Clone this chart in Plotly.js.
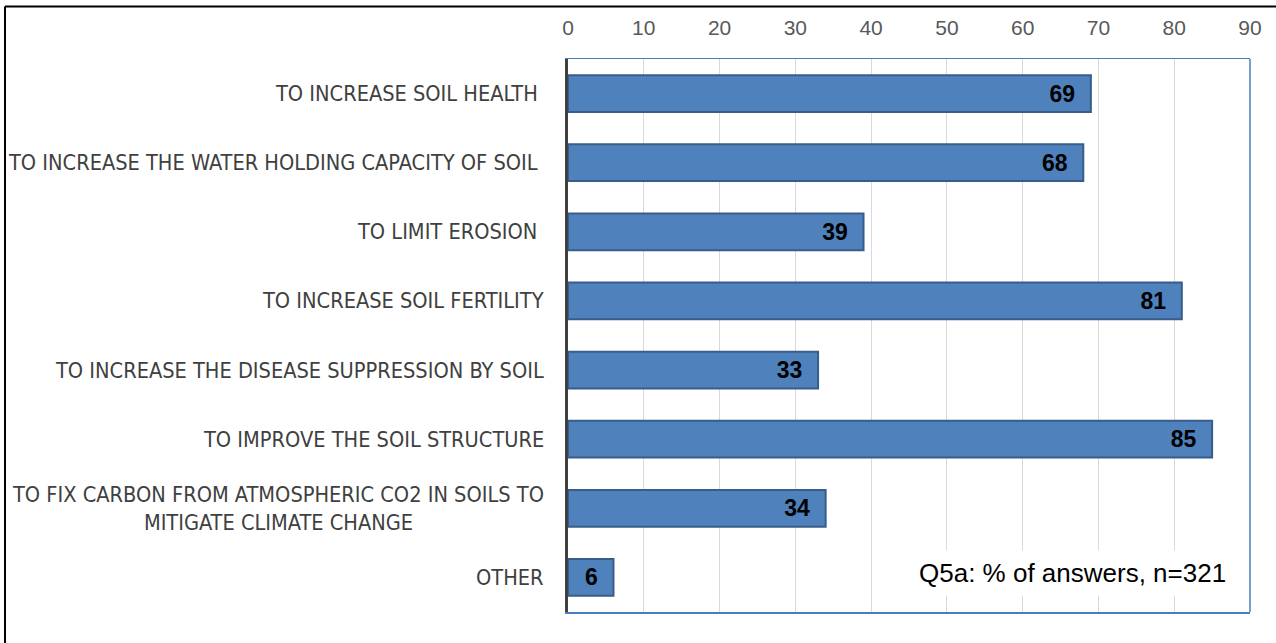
<!DOCTYPE html>
<html>
<head>
<meta charset="utf-8">
<script src="https://cdn.plot.ly/plotly-3.0.1.min.js"></script>
<style>
html,body{margin:0;padding:0;background:#fff;}
#chart{width:1276px;height:643px;}
</style>
</head>
<body>
<div id="chart"></div>
<script>
var categories = [
  "TO INCREASE SOIL HEALTH\u00a0",
  "TO INCREASE THE WATER HOLDING CAPACITY OF SOIL\u00a0",
  "TO LIMIT EROSION\u00a0",
  "TO INCREASE SOIL FERTILITY",
  "TO INCREASE THE DISEASE SUPPRESSION BY SOIL",
  "TO IMPROVE THE SOIL STRUCTURE",
  "TO FIX CARBON FROM ATMOSPHERIC CO2 IN SOILS TO<br>MITIGATE CLIMATE CHANGE",
  "OTHER"
];
var values = [69, 68, 39, 81, 33, 85, 34, 6];
var xTicks = [0, 10, 20, 30, 40, 50, 60, 70, 80, 90];
var noteText = "Q5a: % of answers, n=321";

var catFont = "Liberation Sans Narrow, Arial Narrow, DejaVu Sans Condensed, sans-serif";
var numFont = "Liberation Sans, Arial, sans-serif";

var trace = {
  type: "bar",
  orientation: "h",
  y: categories,
  x: values,
  width: 0.53,
  marker: {color: "#4f81bd", line: {color: "#385d8a", width: 2}},
  texttemplate: "<b>%{x}</b>\u00a0\u00a0",
  textposition: "inside",
  insidetextanchor: "end",
  textangle: 0,
  constraintext: "none",
  textfont: {family: numFont, size: 23, color: "#000000"},
  hoverinfo: "skip"
};

var annotations = categories.map(function(c){
  return {
    xref: "paper", x: 0, xshift: -22, xanchor: "right",
    yref: "y", y: c, yanchor: "middle",
    text: c, showarrow: false, align: "center",
    font: {family: catFont, size: 21.6, color: "#404040"}
  };
});
annotations.push({
  xref: "paper", x: 0.977, xanchor: "right",
  yref: "y", y: categories[categories.length-1], yanchor: "middle", yshift: 4,
  text: noteText, showarrow: false,
  bgcolor: "#ffffff", borderpad: 7,
  font: {family: numFont, size: 26, color: "#000000"}
});

var layout = {
  width: 1276, height: 643,
  margin: {l: 568, r: 26, t: 59, b: 31},
  paper_bgcolor: "#ffffff",
  plot_bgcolor: "#ffffff",
  showlegend: false,
  bargap: 0.47,
  xaxis: {
    side: "top", range: [0, 90], tickvals: xTicks, ticktext: xTicks.map(String),
    showgrid: true, gridcolor: "#d9d9d9", gridwidth: 1,
    zeroline: false, ticks: "", ticklabelstandoff: 14,
    showline: true, linecolor: "#4a7ebb", linewidth: 1.5, mirror: true,
    tickfont: {family: numFont, size: 21, color: "#595959"},
    fixedrange: true
  },
  yaxis: {
    type: "category", autorange: "reversed",
    showticklabels: false, ticks: "",
    showgrid: false, zeroline: false,
    showline: true, linecolor: "#404040", linewidth: 3.5,
    fixedrange: true
  },
  annotations: annotations,
  shapes: [
    {type: "line", xref: "paper", yref: "paper", x0: 1, x1: 1, y0: 0, y1: 1,
     line: {color: "#4a7ebb", width: 1.5}},
    {type: "line", xref: "paper", yref: "paper", x0: -0.8255, x1: -0.8255, y0: -0.3, y1: 1.095,
     line: {color: "#000000", width: 2}},
    {type: "line", xref: "paper", yref: "paper", x0: -0.8255, x1: 1.2, y0: 1.095, y1: 1.095,
     line: {color: "#000000", width: 2}}
  ]
};

Plotly.newPlot("chart", [trace], layout, {displayModeBar: false, staticPlot: true});
</script>
</body>
</html>
